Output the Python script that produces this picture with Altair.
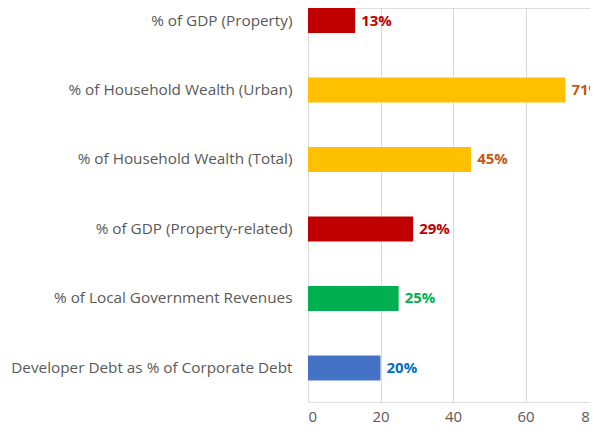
import altair as alt
import pandas as pd

categories = [
    "% of GDP (Property)",
    "% of Household Wealth (Urban)",
    "% of Household Wealth (Total)",
    "% of GDP (Property-related)",
    "% of Local Government Revenues",
    "Developer Debt as % of Corporate Debt",
]
values = [13, 71, 45, 29, 25, 20]
labels = ["13%", "71%", "45%", "29%", "25%", "20%"]
bar_colors = ["#C00000", "#FFC000", "#FFC000", "#C00000", "#00B050", "#4472C4"]
label_colors = ["#C00000", "#C55A11", "#C55A11", "#C00000", "#00B050", "#0070C0"]
x_ticks = [0, 20, 40, 60, 80]

df = pd.DataFrame({"category": categories, "value": values, "label": labels})

FONT = "Open Sans"
GREY = "#595959"

y = alt.Y(
    "category:N",
    sort=categories,
    title=None,
    scale=alt.Scale(paddingInner=0.64, paddingOuter=0.155, align=0),
    axis=alt.Axis(
        labelFont=FONT, labelFontSize=15.3, labelColor=GREY, labelPadding=16,
        ticks=False, domain=False, grid=False, labelLimit=400,
    ),
)
x = alt.X(
    "value:Q",
    title=None,
    scale=alt.Scale(domain=[0, 80], nice=False),
    axis=alt.Axis(
        values=x_ticks, labelFont=FONT, labelFontSize=15, labelColor=GREY,
        labelPadding=7, ticks=False, domain=False, grid=True,
        gridColor="#D9D9D9", gridWidth=1,
    ),
)

bars = alt.Chart(df).mark_bar().encode(
    y=y,
    x=x,
    color=alt.Color("category:N", scale=alt.Scale(domain=categories, range=bar_colors), legend=None),
)
text = alt.Chart(df).mark_text(
    align="left", baseline="middle", dx=6, font=FONT, fontSize=15, fontWeight="bold"
).encode(
    y=alt.Y("category:N", sort=categories),
    x=alt.X("value:Q"),
    text="label:N",
    color=alt.Color("category:N", scale=alt.Scale(domain=categories, range=label_colors), legend=None),
)

chart = (
    alt.layer(bars, text)
    .resolve_scale(color="independent")
    .properties(
        width=290,
        height=394,
        autosize=alt.AutoSizeParams(type="none"),
        padding={"left": 300, "top": 0, "right": -8, "bottom": 24},
    )
    .configure_view(stroke=None)
    .configure(background="white")
)

chart.save("out.html", embed_options={"renderer": "svg", "actions": False})
